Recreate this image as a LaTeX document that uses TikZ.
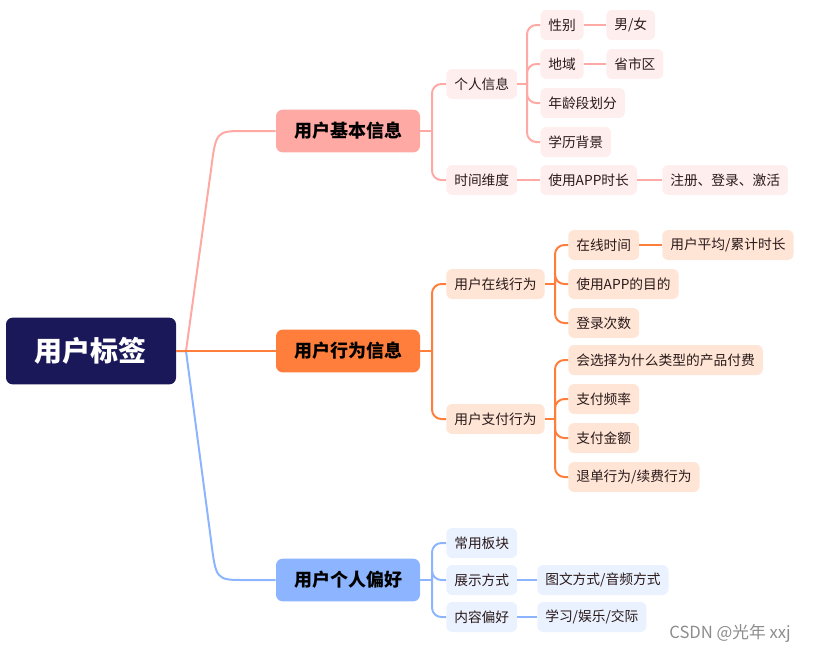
\documentclass[tikz,border=0pt]{standalone}
\usepackage{fontspec}
\setmainfont{Noto Sans CJK SC}
\usetikzlibrary{positioning}
\definecolor{navy}{HTML}{1B1859}
\definecolor{pinkA}{HTML}{FFA9A4}
\definecolor{pinkL}{HTML}{FFEEEE}
\definecolor{orangeA}{HTML}{FF7E3B}
\definecolor{orangeL}{HTML}{FFE5D6}
\definecolor{blueA}{HTML}{8DB5FF}
\definecolor{blueL}{HTML}{EAF1FF}
\definecolor{inktext}{HTML}{2A1A1A}
\tikzset{
  rootbox/.style={
    rectangle,
    rounded corners=5pt,
    fill=navy,
    text=white,
    font=\fontsize{21}{24}\selectfont\bfseries,
    minimum width=127.5pt,
    minimum height=50pt},
  topic/.style={
    rectangle,
    rounded corners=5pt,
    text=black,
    font=\fontsize{13.5}{16}\selectfont\bfseries,
    minimum width=108pt,
    minimum height=32pt},
  leaf/.style={
    rectangle,
    rounded corners=4.5pt,
    anchor=west,
    inner xsep=6pt,
    text=inktext,
    font=\fontsize{10.3}{12}\selectfont,
    minimum height=22.5pt},
  link/.style={line width=1.5pt, rounded corners=7pt},
}
\begin{document}
\begin{tikzpicture}[x=0.75pt, y=-0.75pt]
  \useasboundingbox (0,0) rectangle (815,651);
  % root and main topics
  \node[rootbox] (root) at (91,351) {用户标签};
  \node[topic, fill=pinkA] (basic) at (348,131) {用户基本信息};
  \node[topic, fill=orangeA] (behave) at (348,351) {用户行为信息};
  \node[topic, fill=blueA] (prefer) at (348,580) {用户个人偏好};
  \coordinate (fork) at (186,351);
  \draw[line width=1.5pt, pinkA] (root.east) -- (fork) -- (211,170) .. controls (216,131) .. (245,131) -- (basic.west);
  \draw[line width=1.5pt, blueA] (root.east) -- (fork) -- (211,540) .. controls (216,580) .. (245,580) -- (prefer.west);
  \draw[line width=1.5pt, orangeA] (root.east) -- (behave.west);

  % basic info
  \node[leaf, fill=pinkL] (person) at (446,84) {个人信息};
  \node[leaf, fill=pinkL] (timedim) at (446,180) {时间维度};
  \node[leaf, fill=pinkL] (gender) at (540,25) {性别};
  \node[leaf, fill=pinkL] (region) at (540,64) {地域};
  \node[leaf, fill=pinkL] (age) at (540,103) {年龄段划分};
  \node[leaf, fill=pinkL] (edu) at (540,142) {学历背景};
  \node[leaf, fill=pinkL] (usetime) at (540,180) {使用APP时长};
  \node[leaf, fill=pinkL] (mf) at (606,25) {男/女};
  \node[leaf, fill=pinkL] (city) at (606,64) {省市区};
  \node[leaf, fill=pinkL] (signup) at (662,180) {注册、登录、激活};
  \coordinate (sb) at (432,131);
  \draw[link, pinkA] (basic.east) -- (sb);
  \foreach \c in {person, timedim} \draw[link, pinkA] (sb) |- (\c.west);
  \coordinate (sp) at (527,84);
  \draw[link, pinkA] (person.east) -- (sp);
  \foreach \c in {gender, region, age, edu} \draw[link, pinkA] (sp) |- (\c.west);
  \draw[link, pinkA] (timedim.east) -- (usetime.west);
  \draw[link, pinkA] (usetime.east) -- (signup.west);
  \draw[link, pinkA] (gender.east) -- (mf.west);
  \draw[link, pinkA] (region.east) -- (city.west);

  % behaviour
  \node[leaf, fill=orangeL] (online) at (446,284) {用户在线行为};
  \node[leaf, fill=orangeL] (pay) at (446,419) {用户支付行为};
  \node[leaf, fill=orangeL] (ontime) at (568,245) {在线时间};
  \node[leaf, fill=orangeL] (avg) at (662,245) {用户平均/累计时长};
  \node[leaf, fill=orangeL] (goal) at (568,284) {使用APP的目的};
  \node[leaf, fill=orangeL] (logins) at (568,323) {登录次数};
  \node[leaf, fill=orangeL] (kind) at (568,360) {会选择为什么类型的产品付费};
  \node[leaf, fill=orangeL] (freq) at (568,399) {支付频率};
  \node[leaf, fill=orangeL] (amount) at (568,438) {支付金额};
  \node[leaf, fill=orangeL] (refund) at (568,477) {退单行为/续费行为};
  \coordinate (ob) at (432,351);
  \draw[link, orangeA] (behave.east) -- (ob);
  \foreach \c in {online, pay} \draw[link, orangeA] (ob) |- (\c.west);
  \coordinate (oo) at (555,284);
  \draw[link, orangeA] (online.east) -- (oo);
  \foreach \c in {ontime, goal, logins} \draw[link, orangeA] (oo) |- (\c.west);
  \draw[link, orangeA] (ontime.east) -- (avg.west);
  \coordinate (op) at (555,419);
  \draw[link, orangeA] (pay.east) -- (op);
  \foreach \c in {kind, freq, amount, refund} \draw[link, orangeA] (op) |- (\c.west);

  % preferences
  \node[leaf, fill=blueL] (block) at (446,543) {常用板块};
  \node[leaf, fill=blueL] (show) at (446,580) {展示方式};
  \node[leaf, fill=blueL] (content) at (446,617) {内容偏好};
  \node[leaf, fill=blueL] (media) at (537,580) {图文方式/音频方式};
  \node[leaf, fill=blueL] (study) at (537,617) {学习/娱乐/交际};
  \coordinate (pb) at (432,580);
  \draw[link, blueA] (prefer.east) -- (pb);
  \foreach \c in {block, show, content} \draw[link, blueA] (pb) |- (\c.west);
  \draw[link, blueA] (show.east) -- (media.west);
  \draw[link, blueA] (content.east) -- (study.west);

  \node[text=black!45, font=\fontsize{12.5}{14}\selectfont] (mark) at (730,633) {CSDN @光年 xxj};
\end{tikzpicture}
\end{document}
